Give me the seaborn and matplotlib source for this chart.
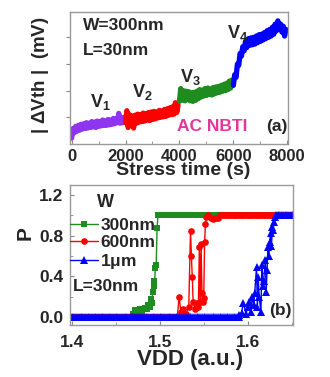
import numpy as np
import pandas as pd
import matplotlib
matplotlib.use('Agg')
import matplotlib.pyplot as plt
from matplotlib.lines import Line2D
from matplotlib.ticker import MultipleLocator
import seaborn as sns

# (a) |dVth| vs stress time, one segment per stress voltage (sampled every 50 s)
seg_names = ['V1', 'V2', 'V3', 'V4']
seg_colors = ['#8f35f2', '#ff0000', '#1e8c1e', '#0000ff']
step_s = 50
dvth_v1 = [0.22, 0.58, 0.42, 0.66, 0.48, 0.70, 0.52, 0.74, 0.56, 0.76, 0.58, 0.80, 0.60, 0.78,
           0.62, 0.84, 0.64, 0.82, 0.62, 0.86, 0.66, 0.84, 0.68, 0.90, 0.70, 0.86, 0.70, 0.92,
           0.72, 0.90, 0.74, 0.96, 0.76, 0.94, 0.80, 1.15, 0.78, 0.98, 0.80, 1.00]
dvth_v2 = [0.80, 1.25, 0.62, 1.10, 0.70, 1.05, 0.60, 1.08, 0.78, 1.12, 0.82, 1.10, 0.84, 1.16,
           0.86, 1.14, 0.90, 1.18, 0.88, 1.20, 0.92, 1.22, 0.94, 1.20, 0.98, 1.26, 1.00, 1.24,
           1.02, 1.30, 1.04, 1.32, 1.08, 1.36, 1.10, 1.40, 1.12, 1.55, 1.18, 1.45]
dvth_v3 = [1.60, 2.08, 1.65, 2.00, 1.62, 1.98, 1.66, 1.96, 1.62, 1.92, 1.60, 1.94, 1.64, 1.98,
           1.70, 2.04, 1.76, 2.02, 1.80, 2.08, 1.82, 2.10, 1.86, 2.06, 1.84, 2.12, 1.88, 2.14,
           1.92, 2.16, 1.94, 2.20, 1.98, 2.24, 2.00, 2.28, 2.04, 2.36, 2.10, 2.40]
dvth_v4 = [2.20, 2.60, 2.50, 3.00, 2.95, 3.40, 3.30, 3.65, 3.50, 3.85, 3.62, 3.95, 3.70, 3.98,
           3.72, 4.00, 3.75, 4.05, 3.80, 4.10, 3.85, 4.12, 3.90, 4.18, 3.95, 4.25, 4.00, 4.30,
           4.05, 4.38, 4.12, 4.50, 4.25, 4.62, 4.30, 4.50, 4.20, 4.42, 4.05, 4.30]

# (b) switching probability P vs VDD
g_lo_end, g_hi_start = 1.468, 1.498
g_vdd = [1.470, 1.472, 1.475, 1.478, 1.480, 1.483, 1.485, 1.487, 1.489, 1.490, 1.491, 1.492,
         1.493, 1.494, 1.495, 1.496, 1.497]
g_p = [0.03, 0.07, 0.05, 0.08, 0.06, 0.09, 0.08, 0.12, 0.10, 0.18, 0.14, 0.25, 0.35, 0.30,
       0.48, 0.51, 0.88]

r_lo_end, r_hi_start = 1.520, 1.568
r_vdd = [1.520, 1.522, 1.524, 1.527, 1.530, 1.533, 1.535, 1.536, 1.537, 1.538, 1.540, 1.542,
         1.544, 1.545, 1.546, 1.547, 1.548, 1.549, 1.550, 1.551, 1.552, 1.553, 1.555, 1.558,
         1.561, 1.564, 1.566]
r_p = [0.0, 0.20, 0.05, 0.08, 0.03, 0.10, 0.85, 0.60, 0.39, 0.15, 0.08, 0.14, 0.10, 0.69,
       0.15, 0.72, 0.24, 0.15, 0.19, 0.74, 0.92, 0.98, 1.0, 0.97, 0.96, 0.97, 0.97]

b_lo_end, b_hi_start = 1.590, 1.634
b_vdd = [1.590, 1.593, 1.595, 1.598, 1.600, 1.602, 1.604, 1.605, 1.607, 1.608, 1.610, 1.611,
         1.612, 1.613, 1.615, 1.616, 1.617, 1.618, 1.620, 1.621, 1.622, 1.623, 1.624, 1.625,
         1.626, 1.627, 1.628, 1.629, 1.630, 1.631, 1.632]
b_p = [0.02, 0.04, 0.14, 0.03, 0.10, 0.15, 0.05, 0.20, 0.12, 0.24, 0.49, 0.10, 0.39, 0.20,
       0.05, 0.51, 0.30, 0.35, 0.56, 0.25, 0.46, 0.69, 0.60, 0.74, 0.83, 0.70, 0.89, 0.86,
       0.93, 0.98, 1.0]

vdd_min, vdd_max, vdd_step = 1.400, 1.652, 0.002
w_labels = ['300nm', '600nm', '1$\\mathbf{\\mu}$m']
w_colors = ['#1e8c1e', '#ff0000', '#0000ff']
w_markers = ['s', 'o', '^']
w_msize = [4.4, 4.8, 6.0]

sns.set_style('ticks')
plt.rcParams['font.family'] = ['Liberation Sans', 'DejaVu Sans']
plt.rcParams['font.weight'] = 'bold'
plt.rcParams['mathtext.fontset'] = 'custom'
plt.rcParams['mathtext.rm'] = 'Liberation Sans:bold'
plt.rcParams['mathtext.bf'] = 'Liberation Sans:bold'
plt.rcParams['mathtext.it'] = 'Liberation Sans:bold'

fig = plt.figure(figsize=(3.3, 3.77), dpi=100)
ax1 = fig.add_axes([0.212, 0.618, 0.661, 0.350])
ax2 = fig.add_axes([0.212, 0.138, 0.676, 0.371])

# ---- panel (a)
rows = []
for i, (name, vals) in enumerate(zip(seg_names, [dvth_v1, dvth_v2, dvth_v3, dvth_v4])):
    t0 = i * 2000
    for k, v in enumerate(vals):
        rows.append({'t': t0 + k * step_s, 'dvth': v, 'seg': name})
df_a = pd.DataFrame(rows)
sns.lineplot(data=df_a, x='t', y='dvth', hue='seg', palette=seg_colors, estimator=None,
             sort=False, linewidth=3.8, legend=False, ax=ax1)
ax1.set_xlim(-60, 8030)
ax1.set_ylim(0, 4.95)
ax1.set_xticks([0, 2000, 4000, 6000, 8000])
ax1.xaxis.set_minor_locator(MultipleLocator(1000))
ax1.set_yticks([1, 2, 3, 4])
ax1.set_yticklabels([])
ax1.tick_params(axis='x', which='both', direction='in', length=3, pad=3.5, labelsize=12,
                color='#888888')
ax1.tick_params(axis='x', which='minor', length=2)
ax1.tick_params(axis='y', direction='out', length=3, color='#888888')
ax1.set_xlabel('Stress time (s)', fontsize=14, fontweight='bold', va='top')
ax1.xaxis.set_label_coords(0.518, -0.14)
ax1.set_ylabel('| $\\Delta$Vth |  (mV)', fontsize=13.5, fontweight='bold')
ax1.yaxis.set_label_coords(-0.085, 0.523)
ax1.text(420, 4.45, 'W=300nm', fontsize=12.5, fontweight='bold', va='center')
ax1.text(420, 3.5, 'L=30nm', fontsize=12.5, fontweight='bold', va='center')
for lab, tx, ty in zip(seg_names, [680, 2240, 4020, 5760], [1.39, 1.76, 2.32, 3.97]):
    ax1.text(tx, ty, lab[0] + '$_{' + lab[1] + '}$', fontsize=13, fontweight='bold',
             ha='left', va='baseline')
ax1.text(3910, 0.67, 'AC NBTI', fontsize=12.5, fontweight='bold', color='#e6359a',
         ha='left', va='center')
ax1.text(7990, 0.67, '(a)', fontsize=12.5, fontweight='bold', ha='right', va='center')

# ---- panel (b)
def full_curve(lo_end, vdd_mid, p_mid, hi_start):
    lo = np.round(np.arange(vdd_min, lo_end, vdd_step), 3)
    hi = np.round(np.arange(hi_start, vdd_max, vdd_step), 3)
    x = list(lo) + vdd_mid + list(hi)
    y = [0.0] * len(lo) + p_mid + [1.0] * len(hi)
    return pd.DataFrame({'vdd': x, 'p': y})

curves = [full_curve(g_lo_end, g_vdd, g_p, g_hi_start),
          full_curve(r_lo_end, r_vdd, r_p, r_hi_start),
          full_curve(b_lo_end, b_vdd, b_p, b_hi_start)]
for d, c, m, ms in zip(curves, w_colors, w_markers, w_msize):
    sns.lineplot(data=d, x='vdd', y='p', color=c, marker=m, markersize=ms, markeredgewidth=0,
                 linewidth=1.0, estimator=None, sort=False, legend=False, ax=ax2)
ax2.set_xlim(1.398, 1.6515)
ax2.set_ylim(-0.079, 1.298)
ax2.set_xticks([1.4, 1.5, 1.6])
ax2.xaxis.set_minor_locator(MultipleLocator(0.05))
ax2.set_yticks([0.0, 0.4, 0.8, 1.2])
ax2.yaxis.set_minor_locator(MultipleLocator(0.2))
ax2.tick_params(which='both', direction='in', length=3, labelsize=12.5, color='#888888')
ax2.tick_params(which='minor', length=2)
ax2.tick_params(axis='x', pad=7)
ax2.tick_params(axis='y', pad=5)
ax2.set_xlabel('VDD (a.u.)', fontsize=16, fontweight='bold', va='top')
ax2.xaxis.set_label_coords(0.538, -0.17)
ax2.set_ylabel('P', fontsize=15, fontweight='bold')
ax2.yaxis.set_label_coords(-0.16, 0.657)

handles = [Line2D([], [], color=c, marker=m, markersize=ms, markeredgewidth=0, linewidth=1.0)
           for c, m, ms in zip(w_colors, w_markers, w_msize)]
ax2.legend(handles, w_labels, loc='upper left', bbox_to_anchor=(0.0, 0.765), frameon=False,
           handlelength=1.6, handletextpad=0.15, labelspacing=0.1,
           borderpad=0, borderaxespad=0, prop={'weight': 'bold', 'size': 12.5})
ax2.text(1.4288, 1.13, 'W', fontsize=13, fontweight='bold', va='center')
ax2.text(1.4015, 0.295, 'L=30nm', fontsize=12.5, fontweight='bold', va='center')
ax2.text(1.650, 0.06, '(b)', fontsize=12.5, fontweight='bold', ha='right', va='center')

for ax in (ax1, ax2):
    for s in ax.spines.values():
        s.set_visible(True)
        s.set_color('#999999')
        s.set_linewidth(1.0)

fig.savefig('out.png', dpi=100)
